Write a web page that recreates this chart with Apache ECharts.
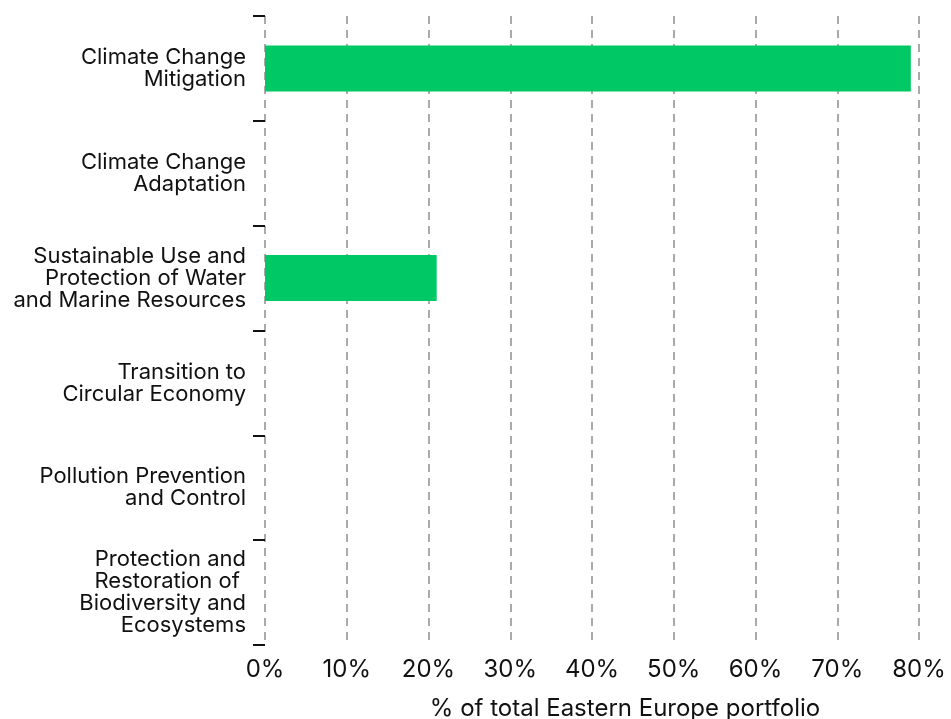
<!DOCTYPE html>
<html>
<head>
<meta charset="utf-8">
<style>html,body{margin:0;padding:0;background:#fff;}#c{width:951px;height:719px;}</style>
<script src="https://cdn.jsdelivr.net/npm/echarts@6/dist/echarts.min.js"></script>
</head>
<body>
<div id="c"></div>
<script>
const categories = [
  "Climate Change\nMitigation",
  "Climate Change\nAdaptation",
  "Sustainable Use and\nProtection of Water\nand Marine Resources",
  "Transition to\nCircular Economy",
  "Pollution Prevention\nand Control",
  "Protection and\nRestoration of \nBiodiversity and\nEcosystems"
];
const values = [79, 0, 21, 0, 0, 0];
const xTicks = [0, 10, 20, 30, 40, 50, 60, 70, 80];
const xAxisName = "% of total Eastern Europe portfolio";

const FONT = 'Inter';
const chart = echarts.init(document.getElementById('c'));
chart.setOption({
  animation: false,
  grid: { left: 265, right: 32, top: 16, bottom: 74, containLabel: false, outerBoundsMode: 'none' },
  xAxis: {
    type: 'value',
    min: xTicks[0],
    max: xTicks[xTicks.length - 1],
    interval: 10,
    name: xAxisName,
    nameLocation: 'middle',
    nameGap: 52,
    nameTextStyle: { fontFamily: FONT, fontSize: 24, color: '#111', padding: [0, 0, 0, 66] },
    axisLine: { show: false },
    axisTick: { show: false },
    axisLabel: { formatter: '{value}%', fontFamily: FONT, fontSize: 24, color: '#111', margin: 13 },
    splitLine: { show: true, lineStyle: { color: '#aaaaaa', type: [8, 6], width: 2 } }
  },
  yAxis: {
    type: 'category',
    inverse: true,
    data: categories,
    axisLine: { show: false },
    axisTick: { show: true, length: 12, lineStyle: { color: '#111', width: 2 } },
    axisLabel: { fontFamily: FONT, fontSize: 22, color: '#111', lineHeight: 22, margin: 19, align: 'right' },
    splitLine: { show: false }
  },
  series: [{
    type: 'bar',
    data: values,
    barWidth: 46,
    itemStyle: { color: '#00C864' }
  }]
});
</script>
</body>
</html>
